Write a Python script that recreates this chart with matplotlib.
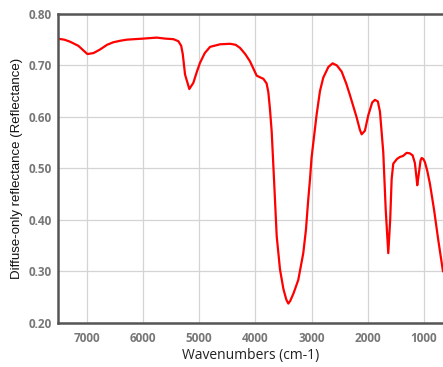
import matplotlib
matplotlib.use("Agg")
import matplotlib.pyplot as plt
import numpy as np

# wavenumbers (cm-1) and reflectance
wavenumbers = [7523, 7400, 7297, 7150, 6989, 6880, 6763, 6640, 6527, 6400, 6288, 6150, 6000, 5880,
               5755, 5600, 5459, 5370, 5320, 5292, 5251, 5175, 5104, 5040, 4985, 4900, 4806, 4629, 4451,
               4350, 4273, 4180, 4096, 3976, 3900, 3858, 3800, 3769, 3740, 3709, 3668, 3620, 3561,
               3500, 3450, 3413, 3380, 3320, 3236, 3147, 3100, 3058, 3027, 3000, 2911, 2850, 2792,
               2700, 2625, 2550, 2464, 2380, 2316, 2200, 2140, 2108, 2050, 1990, 1920, 1871, 1820, 1782,
               1723, 1680, 1634, 1600, 1574, 1545, 1480, 1426, 1370, 1307, 1250, 1200, 1160, 1129,
               1118, 1090, 1060, 1040, 1010, 982, 940, 893, 820, 745, 661]
reflectance = [0.752, 0.750, 0.746, 0.738, 0.722, 0.724, 0.731, 0.740, 0.745, 0.748, 0.750, 0.751, 0.752, 0.753,
               0.754, 0.752, 0.751, 0.747, 0.738, 0.722, 0.682, 0.654, 0.666, 0.688, 0.705, 0.724, 0.736, 0.741, 0.742,
               0.740, 0.734, 0.722, 0.708, 0.680, 0.676, 0.674, 0.665, 0.648, 0.615, 0.571, 0.479, 0.368, 0.303,
               0.265, 0.245, 0.237, 0.242, 0.257, 0.283, 0.335, 0.380, 0.440, 0.479, 0.520, 0.603, 0.650, 0.676,
               0.697, 0.704, 0.700, 0.688, 0.664, 0.642, 0.600, 0.575, 0.566, 0.573, 0.603, 0.628, 0.633, 0.630, 0.610,
               0.531, 0.420, 0.335, 0.400, 0.479, 0.509, 0.518, 0.522, 0.524, 0.530, 0.529, 0.525, 0.510, 0.479,
               0.467, 0.490, 0.515, 0.520, 0.518, 0.512, 0.495, 0.470, 0.420, 0.361, 0.300]

xticks = [7000, 6000, 5000, 4000, 3000, 2000, 1000]
yticks = [0.20, 0.30, 0.40, 0.50, 0.60, 0.70, 0.80]

fig = plt.figure(figsize=(4.43, 3.67), dpi=100)
ax = fig.add_axes([0.130, 0.121, 0.870, 0.841])

ax.plot(wavenumbers, reflectance, color="#ff0000", linewidth=1.6)

ax.set_xlim(7520, 660)
ax.set_ylim(0.20, 0.80)
ax.set_xticks(xticks)
ax.set_yticks(yticks)
ax.set_yticklabels(["%.2f" % v for v in yticks])
ax.grid(True, color="#d4d4d4", linewidth=0.9)
ax.set_axisbelow(True)

for side in ["left", "bottom", "top"]:
    ax.spines[side].set_color("#555555")
    ax.spines[side].set_linewidth(1.8)
ax.spines["right"].set_visible(False)

ax.tick_params(axis="x", length=0, pad=7, labelsize=8.5, labelcolor="#777777")
ax.tick_params(axis="y", length=0, pad=4, labelsize=8.5, labelcolor="#777777")
for lab in ax.get_xticklabels() + ax.get_yticklabels():
    lab.set_fontweight("bold")
    lab.set_family("Open Sans")

ax.set_xlabel("Wavenumbers (cm-1)", fontsize=10, family="Open Sans", color="#222222", labelpad=2)
ax.set_ylabel("Diffuse-only reflectance (Reflectance)", fontsize=9.5, family="Liberation Sans",
              color="#111111", labelpad=4)

fig.savefig("out.png", dpi=100)
